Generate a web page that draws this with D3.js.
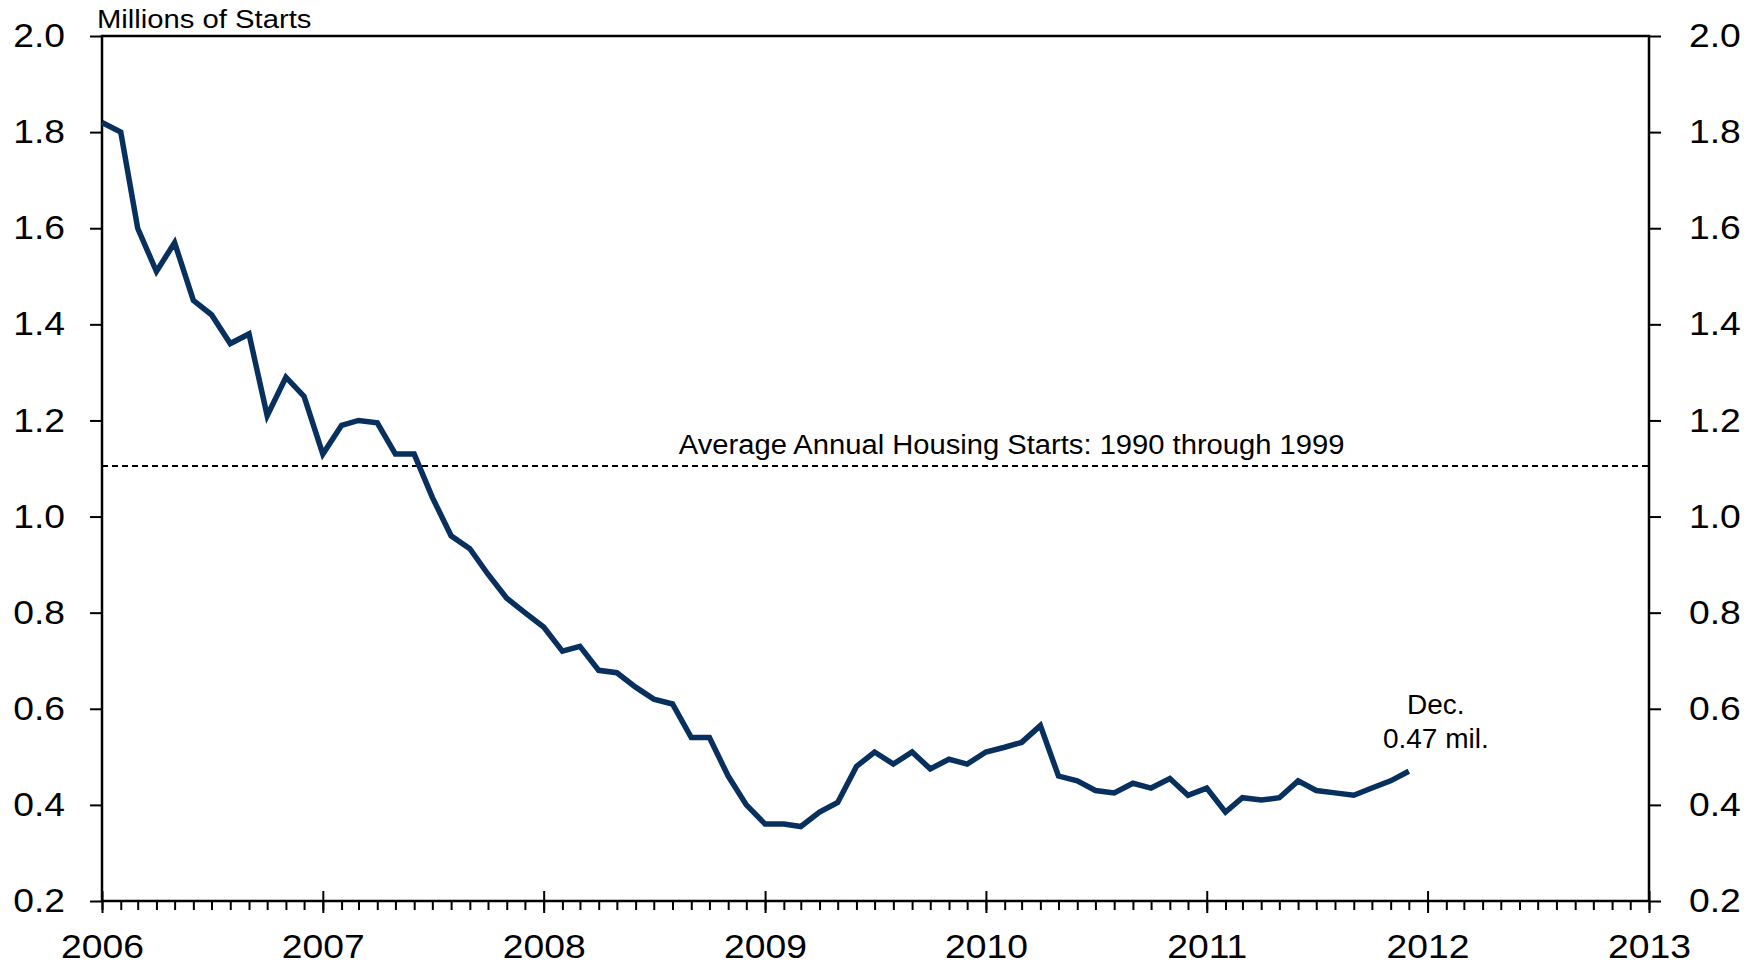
<!DOCTYPE html>
<head>
  <meta charset="utf-8">
  <script src="https://d3js.org/d3.v7.min.js"></script>
  <style>
    body { margin:0; background:#fff; }
    text { font-family: 'Liberation Sans', Arial, sans-serif; fill: #000; }
    .axis path { display: none; }
    .axis line { stroke: #000; stroke-width: 2; }
    .frame { fill: none; stroke: #000; stroke-width: 2.5; }
    .starts-line { fill: none; stroke: #08305f; stroke-width: 5.5; stroke-linejoin: miter; }
    .avg-line { stroke: #000; stroke-width: 2; stroke-dasharray: 6,4; }
  </style>
</head>

<body>
  <script>
    // single-family housing starts, millions, monthly Jan 2006 - Dec 2011
    var months = d3.timeMonths(new Date(2006, 0, 1), new Date(2012, 0, 1));
    var starts = [
      1.82, 1.80, 1.60, 1.51, 1.57, 1.45, 1.42, 1.36, 1.38, 1.21, 1.29, 1.25,
      1.13, 1.19, 1.20, 1.195, 1.13, 1.13, 1.04, 0.96, 0.933, 0.88, 0.83, 0.80,
      0.77, 0.72, 0.73, 0.68, 0.675, 0.645, 0.62, 0.61, 0.54, 0.54, 0.46, 0.40,
      0.36, 0.36, 0.355, 0.385, 0.405, 0.48, 0.51, 0.485, 0.51, 0.475, 0.495, 0.485,
      0.51, 0.52, 0.53, 0.565, 0.46, 0.45, 0.43, 0.425, 0.445, 0.435, 0.455, 0.42,
      0.435, 0.385, 0.415, 0.41, 0.415, 0.45, 0.43, 0.425, 0.42, 0.435, 0.45, 0.47
    ];
    var avgStarts = 1.105;
    var yTicks = [0.2, 0.4, 0.6, 0.8, 1.0, 1.2, 1.4, 1.6, 1.8, 2.0];
    var yearTicks = [2006, 2007, 2008, 2009, 2010, 2011, 2012, 2013];
    var unitLabel = "Millions of Starts";
    var avgLabel = "Average Annual Housing Starts: 1990 through 1999";
    var endLabel = ["Dec.", "0.47 mil."];

    var data = months.map((m, i) => ({date: m, value: starts[i]}));

    var margin = {top: 36, right: 109, bottom: 64, left: 102};
    var width = 1758 - margin.left - margin.right,
        height = 965 - margin.top - margin.bottom;

    // the reference text is a bit wider than Arial
    var sx = 1.13;

    var svg = d3.select("body").append("svg")
        .attr("width", width + margin.left + margin.right)
        .attr("height", height + margin.top + margin.bottom)
      .append("g")
        .attr("transform", "translate(" + margin.left + "," + margin.top + ")");

    var x = d3.scaleTime()
      .domain([new Date(2006, 0, 1), new Date(2013, 0, 1)])
      .range([0, width]);

    var y = d3.scaleLinear()
      .domain([0.2, 2.0])
      .range([height, 0]);

    // left axis
    var yLeft = svg.append("g")
      .attr("class", "axis")
      .call(d3.axisLeft(y).tickValues(yTicks).tickFormat(d3.format(".1f")).tickSize(12).tickSizeOuter(0));
    yLeft.selectAll("text")
      .style("font-size", "33px")
      .attr("x", -37 / sx)
      .attr("transform", "scale(" + sx + ",1)");

    // right axis
    var yRight = svg.append("g")
      .attr("class", "axis")
      .attr("transform", "translate(" + width + ",0)")
      .call(d3.axisRight(y).tickValues(yTicks).tickFormat(d3.format(".1f")).tickSize(12).tickSizeOuter(0));
    yRight.selectAll("text")
      .style("font-size", "33px")
      .attr("x", 40 / sx)
      .attr("transform", "scale(" + sx + ",1)");

    // monthly minor ticks
    svg.append("g")
      .attr("class", "axis")
      .attr("transform", "translate(0," + height + ")")
      .call(d3.axisBottom(x).ticks(d3.timeMonth.every(1)).tickFormat("").tickSize(9).tickSizeOuter(0));

    // yearly major ticks, crossing the axis
    var xMajor = svg.append("g")
      .attr("class", "axis")
      .attr("transform", "translate(0," + height + ")")
      .call(d3.axisBottom(x)
        .tickValues(yearTicks.map(yr => new Date(yr, 0, 1)))
        .tickFormat(d3.timeFormat("%Y"))
        .tickSize(12).tickSizeOuter(0));
    xMajor.selectAll("line").attr("y1", -10);
    xMajor.selectAll("text")
      .style("font-size", "33px")
      .attr("y", 57)
      .attr("dy", 0)
      .attr("transform", "scale(" + sx + ",1)");

    // frame
    svg.append("rect")
      .attr("class", "frame")
      .attr("width", width)
      .attr("height", height);

    // 1990s average
    svg.append("line")
      .attr("class", "avg-line")
      .attr("x1", 0)
      .attr("x2", width)
      .attr("y1", y(avgStarts))
      .attr("y2", y(avgStarts));

    svg.append("text")
      .attr("text-anchor", "middle")
      .attr("transform", "translate(" + (width * 0.588) + "," + (y(avgStarts) - 12) + ") scale(1.08,1)")
      .style("font-size", "27px")
      .text(avgLabel);

    var line = d3.line()
      .x(d => x(d.date))
      .y(d => y(d.value));

    svg.append("path")
      .datum(data)
      .attr("class", "starts-line")
      .attr("d", line);

    // end label
    var last = data[data.length - 1];
    var endText = svg.append("text")
      .attr("text-anchor", "middle")
      .attr("transform", "translate(" + (x(last.date) + 27) + "," + (y(last.value) - 57) + ")")
      .style("font-size", "28px");
    endText.selectAll("tspan")
      .data(endLabel)
      .enter().append("tspan")
        .attr("x", 0)
        .attr("dy", (d, i) => i ? 34 : 0)
        .text(d => d);

    svg.append("text")
      .attr("transform", "translate(-5,-8) scale(1.17,1)")
      .style("font-size", "25px")
      .text(unitLabel);
  </script>
</body>
